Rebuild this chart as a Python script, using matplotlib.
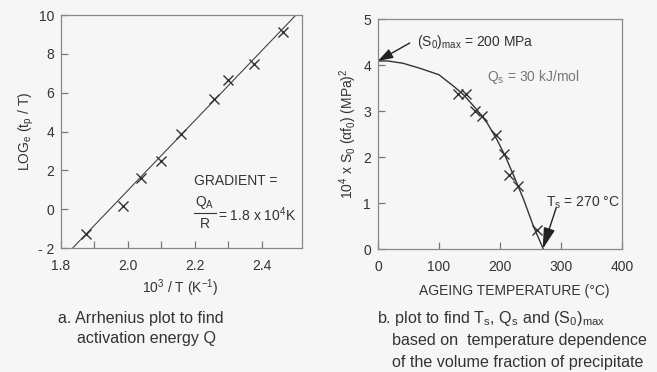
import matplotlib.pyplot as plt
import numpy as np

plt.rcParams['font.family'] = ['Liberation Sans', 'DejaVu Sans']
plt.rcParams['mathtext.fontset'] = 'custom'
plt.rcParams['mathtext.rm'] = 'Liberation Sans'
plt.rcParams['mathtext.it'] = 'Liberation Sans'
plt.rcParams['mathtext.bf'] = 'Liberation Sans'

# (a) Arrhenius data
inv_T = [1.875, 1.984, 2.038, 2.099, 2.158, 2.258, 2.300, 2.376, 2.462]
log_tp = [-1.28, 0.17, 1.6, 2.5, 3.86, 5.7, 6.65, 7.5, 9.14]
fit_x = [1.835, 2.52]
fit_y = [-2.0, 10.33]

# (b) solvus data
age_T = [132, 144, 159, 171, 193, 206, 215, 229, 260]
s0 = [3.37, 3.37, 3.0, 2.9, 2.49, 2.07, 1.62, 1.36, 0.41]
curve_T = [0, 16, 41, 69, 100, 124, 140, 162, 179, 195, 209, 223, 239, 255, 271]
curve_S = [4.09, 4.09, 4.04, 3.93, 3.79, 3.54, 3.36, 3.03, 2.74, 2.38, 2.01, 1.58, 1.07, 0.49, 0.0]

txt = '#333333'
bg = '#f6f6f6'
W, H = 657, 372
fig = plt.figure(figsize=(6.57, 3.72), dpi=100, facecolor=bg)


def px(x, y):
    return x / W, 1 - y / H


ax1 = fig.add_axes([0.0928, 0.3333, 0.3668, 0.626], facecolor=bg)
ax1.plot(fit_x, fit_y, color='#444444', lw=0.8)
ax1.plot(inv_T, log_tp, 'x', color='#333333', ms=7, mew=1.0)
ax1.set_xlim(1.8, 2.52)
ax1.set_ylim(-2, 10)
ax1.set_xticks([1.8, 2.0, 2.2, 2.4])
ax1.set_xticks(np.arange(1.9, 2.45, 0.1), minor=True)
ax1.set_xticklabels(['1.8', '2.0', '2.2', '2.4'])
ax1.set_yticks([-2, 0, 2, 4, 6, 8, 10])
ax1.set_yticklabels(['- 2', '0', '2', '4', '6', '8', '10'])
ax1.set_ylabel('LOG$_e$ (t$_p$ / T)', fontsize=10, color=txt, labelpad=1)
ax1.text(2.197, 1.44, 'GRADIENT =', fontsize=10, color=txt, va='center')
ax1.text(2.23, -0.08, 'Q$_A$', fontsize=10, color=txt, ha='center', va='bottom')
ax1.plot([2.197, 2.263], [-0.2, -0.2], color=txt, lw=0.8)
ax1.text(2.23, -0.4, 'R', fontsize=10, color=txt, ha='center', va='top')
ax1.text(2.269, -0.3, '= 1.8 x 10$^4$K', fontsize=10, color=txt, va='center')

ax2 = fig.add_axes([0.5753, 0.3306, 0.3714, 0.618], facecolor=bg)
ax2.plot(curve_T, curve_S, color='#333333', lw=1.0)
ax2.plot(age_T, s0, 'x', color='#333333', ms=7, mew=1.0)
ax2.set_xlim(0, 400)
ax2.set_ylim(0, 5)
ax2.set_xticks([0, 100, 200, 300, 400])
ax2.set_yticks([0, 1, 2, 3, 4, 5])
ax2.set_ylabel('10$^4$ x S$_0$ ($\\alpha f_0$) (MPa)$^2$', fontsize=10, color=txt, labelpad=3)
ax2.annotate('', xy=(0, 4.09), xytext=(52, 4.48),
             arrowprops=dict(arrowstyle='-|>,head_length=0.9,head_width=0.3',
                             color='#222222', lw=1.0, shrinkA=0, shrinkB=0))
ax2.text(64, 4.5, '(S$_0$)$_{max}$ = 200 MPa', fontsize=10, color=txt, va='center')
ax2.text(178, 3.74, 'Q$_s$ = 30 kJ/mol', fontsize=10, color='#777777', va='center')
ax2.annotate('', xy=(270, 0), xytext=(292, 0.89),
             arrowprops=dict(arrowstyle='-|>,head_length=1.3,head_width=0.35',
                             color='#222222', lw=1.0, shrinkA=0, shrinkB=0))
ax2.text(275, 1.0, 'T$_s$ = 270 °C', fontsize=10, color=txt, va='center')

for ax in (ax1, ax2):
    for s in ax.spines.values():
        s.set_color('#888888')
        s.set_linewidth(0.9)
    ax.tick_params(direction='in', length=5, width=0.9, color='#777777',
                   labelsize=10, labelcolor=txt, pad=5)
    ax.tick_params(which='minor', direction='in', length=5, width=0.9, color='#777777')
    ax.tick_params(axis='x', pad=8)

# axis titles and captions
fig.text(*px(180, 293), '10$^3$ / T (K$^{-1}$)', fontsize=10, color=txt, ha='center')
fig.text(*px(514, 295), 'AGEING TEMPERATURE (°C)', fontsize=10, color=txt, ha='center')
fig.text(*px(58, 323), 'a. Arrhenius plot to find', fontsize=11.6, color=txt)
fig.text(*px(77, 343), 'activation energy Q', fontsize=11.6, color=txt)
fig.text(*px(377, 323), 'b. plot to find T$_s$, Q$_s$ and (S$_0$)$_{max}$', fontsize=11.6,
         color=txt)
fig.text(*px(392, 345), 'based on  temperature dependence', fontsize=11.6, color=txt)
fig.text(*px(392, 367), 'of the volume fraction of precipitate', fontsize=11.6, color=txt)

fig.savefig('out.png', dpi=100, facecolor=bg)
